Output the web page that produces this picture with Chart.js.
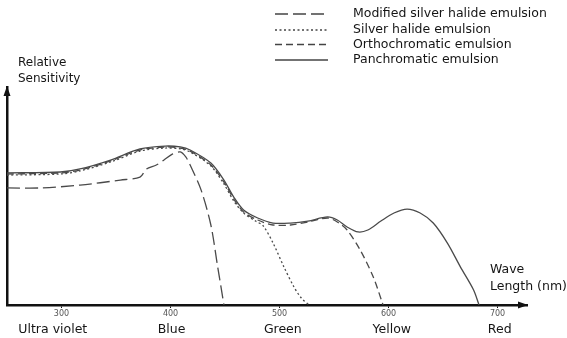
<!DOCTYPE html>
<html>
<head>
<meta charset="utf-8">
<script src="https://cdn.jsdelivr.net/npm/chart.js@4.4.0/dist/chart.umd.min.js"></script>
<style>
  body { margin: 0; background: #fff; }
  canvas { display: block; }
</style>
</head>
<body>
<canvas id="sensChart" width="567" height="338"></canvas>
<script>
// === Data: wavelength (nm) and relative sensitivity (0-100) ===
const tickValues = [300, 400, 500, 600, 700];
const bandNames = ['Ultra violet', 'Blue', 'Green', 'Yellow', 'Red'];
const bandAt = [292, 401, 503, 603, 702];

const seriesNames = [
  'Modified silver halide emulsion',
  'Silver halide emulsion',
  'Orthochromatic emulsion',
  'Panchromatic emulsion'
];

const modNm  = [250, 281, 317, 354, 372, 378, 387, 394, 402, 409, 414, 418, 428, 437, 443, 449];
const modVal = [53.7, 53.7, 55.0, 57.3, 58.7, 62.4, 64.2, 66.5, 69.3, 70.2, 67.9, 64.2, 52.8, 36.7, 18.3, 0];

const silNm  = [250, 299, 317, 345, 372, 395, 409, 418, 437, 449, 458, 467, 478, 485, 494, 504, 513, 520, 527];
const silVal = [59.6, 60.1, 61.5, 65.6, 70.6, 72.0, 71.6, 70.2, 63.8, 55.5, 47.7, 42.2, 38.5, 36.3, 28.5, 17.5, 8.5, 3.2, 0];

const orthoNm  = [250, 299, 317, 345, 372, 395, 409, 418, 437, 449, 458, 467, 480, 494, 510, 526, 544, 553, 562, 574, 586, 595];
const orthoVal = [60.1, 60.6, 61.9, 66.1, 71.1, 72.5, 72.0, 70.6, 64.2, 56.4, 48.6, 42.7, 39.0, 36.7, 36.7, 38.1, 39.9, 38.1, 34.4, 25.2, 12.8, 0];

const panNm  = [250, 299, 317, 345, 372, 395, 409, 418, 437, 449, 458, 467, 480, 494, 510, 526, 544, 553, 562, 572, 581, 593, 605, 617, 629, 641, 654, 666, 678, 683];
const panVal = [60.6, 61.0, 62.4, 66.5, 71.6, 72.9, 72.5, 71.1, 65.1, 57.3, 49.5, 43.6, 39.9, 37.6, 37.6, 38.5, 40.4, 39.0, 35.8, 33.5, 34.4, 38.5, 42.2, 44.0, 42.2, 37.6, 28.4, 17.4, 6.9, 0];

const dashes = [[13, 5], [2, 2.5], [7, 4], []];
const FONT = "'DejaVu Sans', sans-serif";

function pairs(xs, ys) {
  return xs.map((x, i) => ({ x: x, y: ys[i] }));
}

// === Legend, arrows, axis captions ===
const extras = {
  id: 'extras',
  afterDraw(chart) {
    const ctx = chart.ctx;
    const area = chart.chartArea;
    const xs = chart.scales.x;
    ctx.save();

    // arrowheads
    ctx.fillStyle = '#111';
    ctx.beginPath();
    ctx.moveTo(area.left, area.top - 1);
    ctx.lineTo(area.left - 3.5, area.top + 9);
    ctx.lineTo(area.left + 3.5, area.top + 9);
    ctx.closePath();
    ctx.fill();
    ctx.beginPath();
    ctx.moveTo(area.right + 1, area.bottom);
    ctx.lineTo(area.right - 9, area.bottom - 3.5);
    ctx.lineTo(area.right - 9, area.bottom + 3.5);
    ctx.closePath();
    ctx.fill();

    // band names under ticks
    ctx.fillStyle = '#151515';
    ctx.font = '12.5px ' + FONT;
    ctx.textAlign = 'center';
    ctx.textBaseline = 'middle';
    bandNames.forEach((name, i) => {
      ctx.fillText(name, xs.getPixelForValue(bandAt[i]), 330);
    });

    // axis captions
    ctx.textAlign = 'left';
    ctx.font = '12px ' + FONT;
    ctx.fillText('Relative', 18, 63);
    ctx.fillText('Sensitivity', 18, 79);
    ctx.font = '12.5px ' + FONT;
    ctx.fillText('Wave', 490, 270);
    ctx.fillText('Length (nm)', 490, 287);

    // legend
    const rows = [14, 30, 44.5, 60];
    chart.data.datasets.forEach((ds, i) => {
      ctx.strokeStyle = '#444';
      ctx.lineWidth = 1.3;
      ctx.setLineDash(ds.borderDash || []);
      ctx.beginPath();
      ctx.moveTo(275, rows[i]);
      ctx.lineTo(328, rows[i]);
      ctx.stroke();
      ctx.setLineDash([]);
      ctx.fillText(ds.label, 353, rows[i]);
    });
    ctx.restore();
  }
};

const series = [
  pairs(modNm, modVal),
  pairs(silNm, silVal),
  pairs(orthoNm, orthoVal),
  pairs(panNm, panVal)
];

const ctx = document.getElementById('sensChart').getContext('2d');
const sensChart = new Chart(ctx, {
  type: 'line',
  data: {
    datasets: series.map((pts, i) => ({
      label: seriesNames[i],
      data: pts,
      borderColor: '#4a4a4a',
      borderWidth: 1.3,
      borderDash: dashes[i],
      pointRadius: 0,
      tension: 0.3,
      fill: false
    }))
  },
  options: {
    responsive: false,
    animation: false,
    layout: { padding: { left: 7, right: 40, top: 87, bottom: 0 } },
    plugins: {
      legend: { display: false },
      tooltip: { enabled: false }
    },
    scales: {
      x: {
        type: 'linear',
        min: 250,
        max: 727,
        afterBuildTicks: (scale) => { scale.ticks = tickValues.map(v => ({ value: v })); },
        afterFit: (scale) => { scale.height = 33; },
        grid: { display: true, drawOnChartArea: false, drawTicks: true, tickLength: 3, color: '#111', lineWidth: 1 },
        border: { display: true, color: '#111', width: 2.5 },
        ticks: { font: { family: FONT, size: 8 }, color: '#555', padding: 1, maxRotation: 0 }
      },
      y: {
        min: 0,
        max: 100,
        afterFit: (scale) => { scale.width = 0; },
        grid: { display: false },
        border: { display: true, color: '#111', width: 2.5 },
        ticks: { display: false }
      }
    }
  },
  plugins: [extras]
});
</script>
</body>
</html>
